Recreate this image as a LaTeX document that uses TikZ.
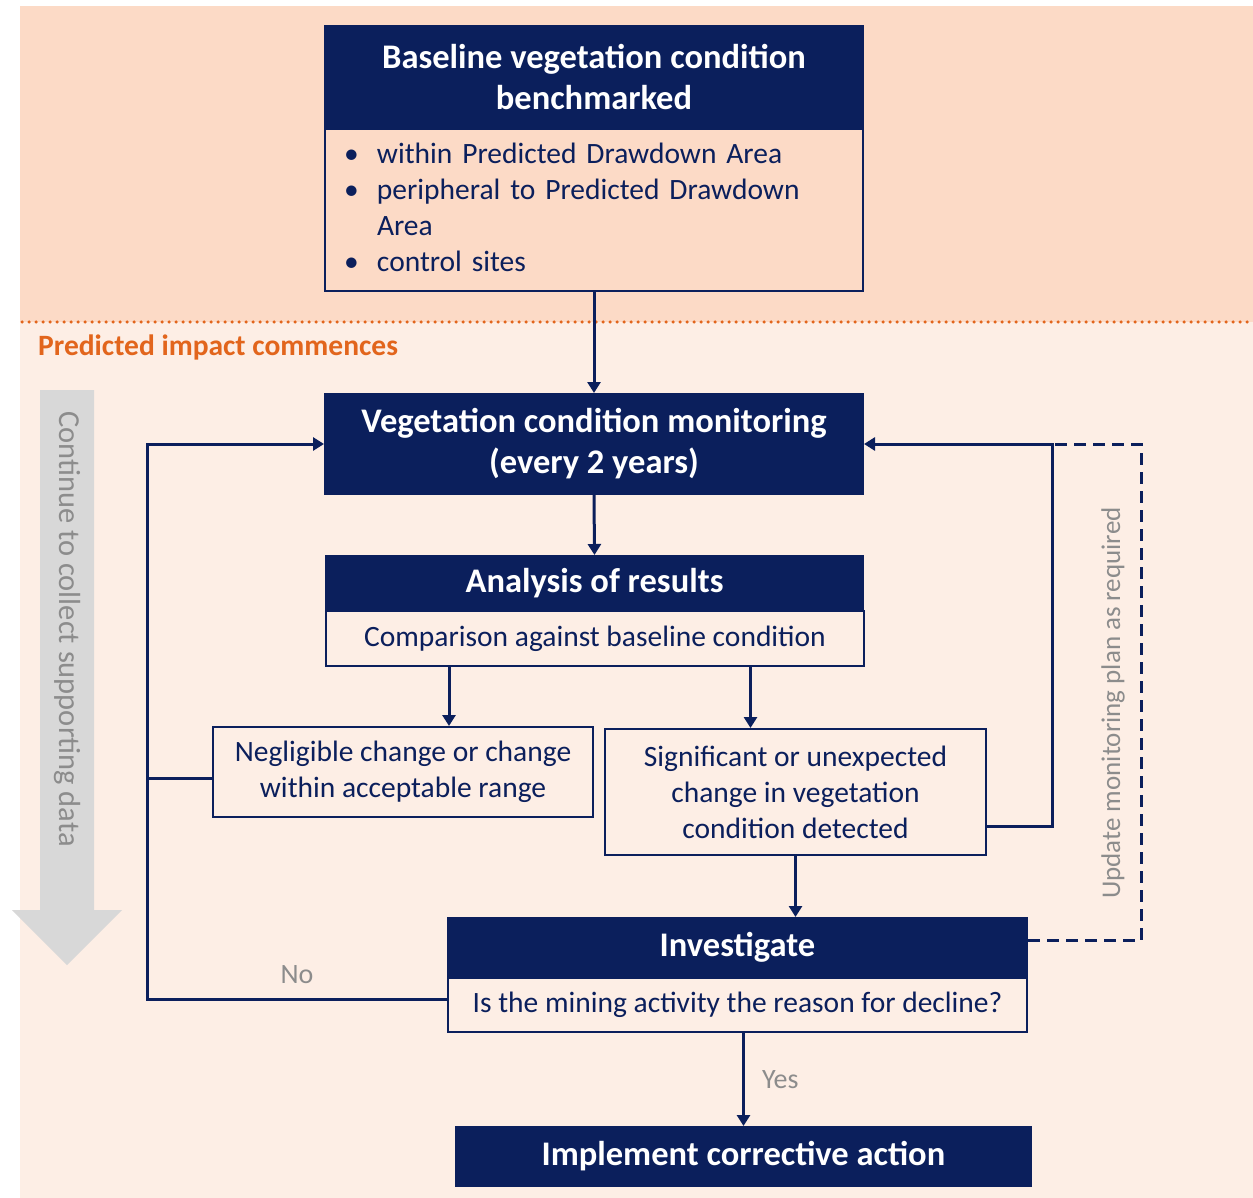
\documentclass[tikz,border=0pt]{standalone}
\usepackage{fontspec}
\setmainfont{Carlito}
\usepackage{xcolor}
\usepackage{tikz}
\usetikzlibrary{calc,arrows.meta,positioning}
\definecolor{navyc}{HTML}{0B1F5C}
\definecolor{topbg}{HTML}{FCDAC6}
\definecolor{lowbg}{HTML}{FDEEE5}
\definecolor{orgc}{HTML}{E2651C}
\definecolor{greyar}{HTML}{D8D8D8}
\definecolor{greytx}{HTML}{8C8C8C}
\newcommand{\hdfont}{\fontsize{34.5}{41}\selectfont\bfseries}
\newcommand{\bdfont}{\fontsize{29.5}{36}\selectfont}
\tikzset{
  hd/.style={fill=navyc,draw=navyc,line width=1pt,text=white,font=\hdfont,align=center,inner sep=0pt,anchor=north west},
  bd/.style={draw=navyc,line width=2pt,text=navyc,font=\bdfont,align=center,inner sep=0pt,anchor=north west},
  ar/.style={-{Triangle[length=11pt,width=13pt]},line width=3pt,navyc},
  ln/.style={line width=3pt,navyc},
  gt/.style={text=greytx,font=\fontsize{28}{32}\selectfont,inner sep=0pt}
}
\begin{document}
\begin{tikzpicture}[x=1pt,y=-1pt]
\useasboundingbox[fill=white] (0,0) rectangle (1253,1198);
% background bands
\fill[topbg] (20,6) rectangle (1253,322);
\fill[lowbg] (20,322) rectangle (1253,1198);
\draw[orgc,line width=3.5pt,dash pattern=on 0pt off 7pt,line cap=round] (22,322) -- (1253,322);
\node[text=orgc,font=\fontsize{29.5}{33}\selectfont\bfseries,anchor=west,inner sep=0pt] (imp) at (38,347) {Predicted impact commences};
% grey arrow
\fill[greyar] (40,390) -- (94,390) -- (94,910) -- (122,910) -- (67,965) -- (12,910) -- (40,910) -- cycle;
\node[gt,font=\fontsize{30.5}{34}\selectfont,rotate=-90] (cont) at (67,629) {Continue to collect supporting data};

% boxes
\node[hd,minimum width=539pt,minimum height=103pt] (basehd) at (324,25) {Baseline vegetation condition\\benchmarked};
\node[bd,minimum width=538pt,minimum height=162pt,text width=500pt,align=left,inner xsep=19pt] (basebd) at (324,128)
  {\begin{tabular}{@{}p{33pt}@{}l@{}}\textbullet & within Predicted Drawdown Area\\ \textbullet & peripheral to Predicted Drawdown\\ & Area\\ \textbullet & control sites\end{tabular}};
\node[hd,minimum width=539pt,minimum height=101pt] (monhd) at (324,393) {Vegetation condition monitoring\\(every 2 years)};
\node[hd,minimum width=538pt,minimum height=55pt] (anahd) at (325,555) {Analysis of results};
\node[bd,minimum width=538pt,minimum height=55pt] (anabd) at (325,610) {Comparison against baseline condition};
\node[bd,minimum width=380pt,minimum height=90pt] (neg) at (212,726) {Negligible change or change\\within acceptable range};
\node[bd,minimum width=381pt,minimum height=126pt] (sig) at (604,728) {Significant or unexpected\\change in vegetation\\condition detected};
\node[hd,minimum width=580pt,minimum height=60pt] (invhd) at (447,917) {Investigate};
\node[bd,minimum width=579pt,minimum height=54pt] (invbd) at (447,977) {Is the mining activity the reason for decline?};
\node[hd,minimum width=576pt,minimum height=60pt] (act) at (455,1126) {Implement corrective action};

% connectors
\draw[ar] (basebd.south) -- (monhd.north);
\draw[ar] (monhd.south) -- (anahd.north);
\draw[ar] ([xshift=46pt]neg.north |- anabd.south) -- ([xshift=46pt]neg.north);
\draw[ar] ([xshift=-45pt]sig.north |- anabd.south) -- ([xshift=-45pt]sig.north);
\draw[ar] (sig.south) -- (sig.south |- invhd.north);
\draw[ar] (act.north |- invbd.south) -- (act.north) node[gt,midway,right=17pt] (yes) {Yes};
\coordinate (lp) at ([xshift=-300pt,yshift=6pt]invbd.west);
\draw[ar] ([yshift=6pt]invbd.west) -- (lp) node[gt,midway,above=14pt] (no) {No} |- (monhd.west);
\draw[ln] ([yshift=-6pt]neg.west) -- ([yshift=-6pt]neg.west -| lp);
\coordinate (rp) at ([xshift=65pt,yshift=-34pt]sig.east);
\draw[ar] ([yshift=-34pt]sig.east) -- (rp) |- (monhd.east);
\draw[ln,dash pattern=on 12pt off 7pt] ([yshift=7pt]invhd.east) -- ++(113,0) |- (rp |- monhd.east);
\node[gt,font=\fontsize{27}{31}\selectfont,rotate=90] (upd) at (1113,703) {Update monitoring plan as required};
\end{tikzpicture}
\end{document}
